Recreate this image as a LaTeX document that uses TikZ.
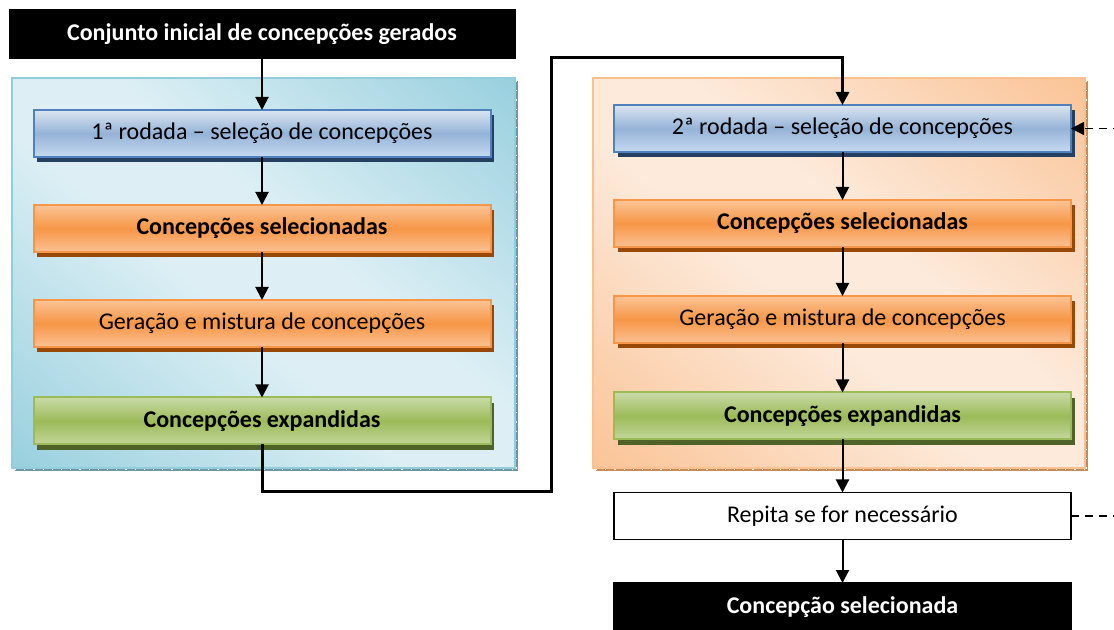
\documentclass[tikz,border=0pt]{standalone}
\usepackage{fontspec}
\setmainfont{Carlito}
\usetikzlibrary{arrows.meta,shadows}
\definecolor{bluetop}{HTML}{DBE5F1}
\definecolor{bluemid}{HTML}{95B3D7}
\definecolor{bluebot}{HTML}{C6D9F1}
\definecolor{blueline}{HTML}{4F81BD}
\definecolor{blueshadow}{HTML}{243F60}
\definecolor{ortop}{HTML}{FBC497}
\definecolor{ormid}{HTML}{F79646}
\definecolor{orbot}{HTML}{FBC194}
\definecolor{orline}{HTML}{F79646}
\definecolor{orshadow}{HTML}{984807}
\definecolor{grtop}{HTML}{C9DAA6}
\definecolor{grmid}{HTML}{9BBB59}
\definecolor{grbot}{HTML}{C3D69B}
\definecolor{grline}{HTML}{9BBB59}
\definecolor{grshadow}{HTML}{4F6228}
\definecolor{pbdark}{HTML}{92CDDC}
\definecolor{pblight}{HTML}{DDEFF5}
\definecolor{pbline}{HTML}{92CDDC}
\definecolor{pbshadow}{HTML}{6E97A6}
\definecolor{podark}{HTML}{FAC090}
\definecolor{polight}{HTML}{FDEADB}
\definecolor{poline}{HTML}{FAC090}
\definecolor{poshadow}{HTML}{C98A55}
\pgfdeclareverticalshading{blueshade}{100bp}{color(0bp)=(bluebot); color(25bp)=(bluebot); color(50bp)=(bluemid); color(75bp)=(bluetop); color(100bp)=(bluetop)}
\pgfdeclareverticalshading{orshade}{100bp}{color(0bp)=(orbot); color(25bp)=(orbot); color(50bp)=(ormid); color(75bp)=(ortop); color(100bp)=(ortop)}
\pgfdeclareverticalshading{grshade}{100bp}{color(0bp)=(grbot); color(25bp)=(grbot); color(50bp)=(grmid); color(75bp)=(grtop); color(100bp)=(grtop)}
\pgfdeclareverticalshading{pbshade}{100bp}{color(0bp)=(pbdark); color(12bp)=(pbdark); color(44bp)=(pblight); color(56bp)=(pblight); color(88bp)=(pbdark); color(100bp)=(pbdark)}
\pgfdeclareverticalshading{poshade}{100bp}{color(0bp)=(podark); color(12bp)=(podark); color(44bp)=(polight); color(56bp)=(polight); color(88bp)=(podark); color(100bp)=(podark)}
\tikzset{
  flowbox/.style={minimum width=228.5pt, minimum height=23.5pt, inner sep=0pt, outer sep=0pt,
    line width=1pt, font=\fontsize{12}{14}\selectfont, text=black},
  bluebox/.style={flowbox, shading=blueshade, draw=blueline,
    drop shadow={shadow xshift=1.8pt, shadow yshift=-2.6pt, fill=blueshadow, opacity=1}},
  orbox/.style={flowbox, shading=orshade, draw=orline,
    drop shadow={shadow xshift=1.8pt, shadow yshift=-2.6pt, fill=orshadow, opacity=1}},
  grbox/.style={flowbox, shading=grshade, draw=grline,
    drop shadow={shadow xshift=1.8pt, shadow yshift=-2.6pt, fill=grshadow, opacity=1}},
  blackbox/.style={flowbox, fill=black, draw=black, text=white, font=\fontsize{12}{14}\selectfont\bfseries},
  whitebox/.style={flowbox, fill=white, draw=black, line width=0.75pt},
  boldtext/.style={font=\fontsize{12}{14}\selectfont\bfseries},
  arr/.style={line width=1pt, -{Triangle[length=6.5pt, width=6.5pt]}},
  thickarr/.style={line width=1.5pt, -{Triangle[length=6.5pt, width=6.5pt]}},
  dasharr/.style={line width=0.75pt, dash pattern=on 4pt off 3pt, -{Triangle[length=6.5pt, width=6.5pt]}},
  dashline/.style={line width=0.75pt, dash pattern=on 4pt off 3pt},
  ticks/.style={white, line width=0.5pt, dash pattern=on 0.6pt off 4pt},
}
\begin{document}
\begin{tikzpicture}[x=0.5pt,y=0.5pt]
\useasboundingbox (0,-630) rectangle (1114,0);
\clip (0,-630) rectangle (1114,0);
% panels
\fill[pbshadow] (15,-81) rectangle (518,-471);
\draw[ticks] (15,-469.5) -- (518,-469.5);
\draw[ticks] (516.5,-81) -- (516.5,-471);
\shade[shading=pbshade, shading angle=-40, draw=pbline, line width=1pt]
  (12,-78) rectangle (515,-468);
\fill[poshadow] (596,-81) rectangle (1088,-471);
\draw[ticks] (596,-469.5) -- (1088,-469.5);
\draw[ticks] (1086.5,-81) -- (1086.5,-471);
\shade[shading=poshade, shading angle=-40, draw=poline, line width=1pt]
  (593,-78) rectangle (1085,-468);
% left column
\node[blackbox, minimum width=252.5pt, minimum height=24pt] (top) at (262,-34) {Conjunto inicial de concepções gerados};
\node[bluebox] (l1) at (262,-133.5) {1ª rodada – seleção de concepções};
\node[orbox, boldtext] (l2) at (262,-228.5) {Concepções selecionadas};
\node[orbox] (l3) at (262,-323.5) {Geração e mistura de concepções};
\node[grbox, boldtext] (l4) at (262,-421) {Concepções expandidas};
% right column
\node[bluebox] (r1) at (842.5,-128.5) {2ª rodada – seleção de concepções};
\node[orbox, boldtext] (r2) at (842.5,-223.5) {Concepções selecionadas};
\node[orbox] (r3) at (842.5,-319.5) {Geração e mistura de concepções};
\node[grbox, boldtext] (r4) at (842.5,-416) {Concepções expandidas};
\node[whitebox] (rep) at (842.5,-516) {Repita se for necessário};
\node[blackbox, minimum height=24pt] (fin) at (842.5,-607) {Concepção selecionada};
% connectors
\draw[arr] (top) -- (l1);
\draw[arr] (l1) -- (l2);
\draw[arr] (l2) -- (l3);
\draw[arr] (l3) -- (l4);
\coordinate (j1) at (551,-492);
\coordinate (j2) at (551,-58);
\draw[thickarr] (l4.south) |- (j1) -- (j2) -| (r1.north);
\draw[arr] (r1) -- (r2);
\draw[arr] (r2) -- (r3);
\draw[arr] (r3) -- (r4);
\draw[arr] (r4) -- (rep);
\draw[arr] (rep) -- (fin);
\coordinate (d1) at (1135,-516);
\coordinate (d2) at (1135,-128.5);
\draw[dashline] (rep.east) -- (d1) -- (d2);
\draw[dasharr] (d2) -- (r1.east);
\end{tikzpicture}
\end{document}
